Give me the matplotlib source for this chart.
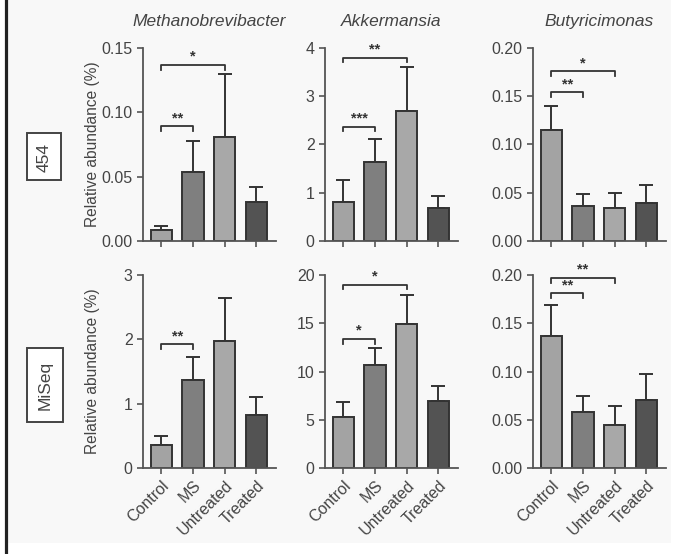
import matplotlib.pyplot as plt
import matplotlib.transforms as mtransforms
from matplotlib.lines import Line2D
from matplotlib.patches import Rectangle

plt.rcParams['font.family'] = ['Liberation Sans', 'DejaVu Sans']

groups = ['Control', 'MS', 'Untreated', 'Treated']
bar_colors = ['#a3a3a3', '#7f7f7f', '#a8a8a8', '#535353']
taxa = ['Methanobrevibacter', 'Akkermansia', 'Butyricimonas']
rows = ['454', 'MiSeq']

# mean relative abundance and upper error (SEM) per panel
methano_454 = [0.0085, 0.054, 0.081, 0.030]
methano_454_err = [0.0028, 0.024, 0.049, 0.012]
akker_454 = [0.80, 1.63, 2.69, 0.68]
akker_454_err = [0.47, 0.49, 0.92, 0.26]
butyri_454 = [0.115, 0.036, 0.034, 0.039]
butyri_454_err = [0.025, 0.013, 0.016, 0.019]

methano_miseq = [0.36, 1.37, 1.98, 0.82]
methano_miseq_err = [0.13, 0.36, 0.66, 0.29]
akker_miseq = [5.3, 10.7, 14.9, 6.9]
akker_miseq_err = [1.5, 1.7, 3.0, 1.55]
butyri_miseq = [0.137, 0.058, 0.045, 0.070]
butyri_miseq_err = [0.032, 0.017, 0.019, 0.027]

# y axis ticks per panel
ticks_methano_454 = [0, 0.05, 0.10, 0.15]
ticks_akker_454 = [0, 1, 2, 3, 4]
ticks_butyri = [0, 0.05, 0.10, 0.15, 0.20]
ticks_methano_miseq = [0, 1, 2, 3]
ticks_akker_miseq = [0, 5, 10, 15, 20]

# significance brackets: (group a, group b, level, stars)
sig_methano_454 = [(0, 1, 0.089, '**'), (0, 2, 0.137, '*')]
sig_akker_454 = [(0, 1, 2.37, '***'), (0, 2, 3.80, '**')]
sig_butyri_454 = [(0, 1, 0.154, '**'), (0, 2, 0.176, '*')]
sig_methano_miseq = [(0, 1, 1.92, '**')]
sig_akker_miseq = [(0, 1, 13.4, '*'), (0, 2, 19.0, '*')]
sig_butyri_miseq = [(0, 1, 0.181, '**'), (0, 2, 0.197, '**')]

panels = [
    [(methano_454, methano_454_err, ticks_methano_454, '{:.2f}', sig_methano_454),
     (akker_454, akker_454_err, ticks_akker_454, '{:.0f}', sig_akker_454),
     (butyri_454, butyri_454_err, ticks_butyri, '{:.2f}', sig_butyri_454)],
    [(methano_miseq, methano_miseq_err, ticks_methano_miseq, '{:.0f}', sig_methano_miseq),
     (akker_miseq, akker_miseq_err, ticks_akker_miseq, '{:.0f}', sig_akker_miseq),
     (butyri_miseq, butyri_miseq_err, ticks_butyri, '{:.2f}', sig_butyri_miseq)],
]

W, H = 680, 554
fig = plt.figure(figsize=(W / 100, H / 100), dpi=100)
fig.patch.set_facecolor('white')
fig.add_artist(Rectangle((0.012, 0.02), 0.975, 0.98, transform=fig.transFigure,
                         facecolor='#f8f8f8', edgecolor='none', zorder=-10))
fig.add_artist(Line2D([0.009, 0.009], [0.0, 1.0], transform=fig.transFigure,
                      color='#222222', lw=2.3))

ax_left = [143, 325, 533]
ax_width = 133
row_top = [48, 275]
row_height = 193
text_col = '#444444'
edge_col = '#333333'

for r in range(2):
    for c in range(3):
        vals, errs, ticks, fmt, sigs = panels[r][c]
        ax = fig.add_axes([ax_left[c] / W, 1 - (row_top[r] + row_height) / H,
                           ax_width / W, row_height / H])
        ax.set_facecolor('none')
        x = range(len(groups))
        ax.bar(x, vals, width=0.68, color=bar_colors, edgecolor=edge_col, linewidth=1.4, zorder=2)
        ax.errorbar(x, vals, yerr=[[0] * len(errs), errs], fmt='none', ecolor=edge_col,
                    elinewidth=1.4, capsize=5, capthick=1.4, zorder=1)
        ymax = ticks[-1]
        ax.set_ylim(0, ymax)
        ax.set_xlim(-0.58, 3.62)
        ax.set_yticks(ticks)
        ax.set_yticklabels([fmt.format(t) for t in ticks])
        ax.set_xticks(list(x))
        if r == 1:
            ax.set_xticklabels(groups, rotation=45, ha='right', va='top', rotation_mode='anchor')
            shift = mtransforms.ScaledTranslation(-6 / 72, -1 / 72, fig.dpi_scale_trans)
            for lab in ax.get_xticklabels():
                lab.set_transform(lab.get_transform() + shift)
        else:
            ax.set_xticklabels([])
        for s in ['top', 'right']:
            ax.spines[s].set_visible(False)
        for s in ['left', 'bottom']:
            ax.spines[s].set_color('#555555')
            ax.spines[s].set_linewidth(1.3)
        ax.tick_params(colors='#555555', labelcolor=text_col, labelsize=11.5,
                       length=4, width=1.2, direction='out')
        ax.tick_params(axis='x', labelsize=11.5, pad=3)

        for a, b, level, stars in sigs:
            dy = ymax * 0.025
            ax.plot([a, a, b, b], [level - dy, level, level, level - dy],
                    color=edge_col, lw=1.3, clip_on=False)
            ax.text((a + b) / 2, level + ymax * 0.005, stars, ha='center', va='bottom',
                    fontsize=10.5, fontweight='bold', color=edge_col)

        if r == 0:
            ax.set_title(taxa[c], fontstyle='italic', fontsize=12.5, color=text_col, pad=16)
        if c == 0:
            ax.set_ylabel('Relative abundance (%)', fontsize=11.2, color=text_col)
            ax.yaxis.set_label_coords(-0.32, 0.5)

# row labels in boxes
fig.add_artist(Rectangle((27 / W, 1 - 180 / H), 34 / W, 47 / H, transform=fig.transFigure,
                         facecolor='white', edgecolor='#444444', lw=1.4))
fig.text(44 / W, 1 - 157 / H, rows[0], rotation=90, ha='center', va='center',
         fontsize=12.5, color=text_col)
fig.add_artist(Rectangle((27 / W, 1 - 422 / H), 36 / W, 74 / H, transform=fig.transFigure,
                         facecolor='white', edgecolor='#444444', lw=1.4))
fig.text(45 / W, 1 - 385 / H, rows[1], rotation=90, ha='center', va='center',
         fontsize=12.5, color=text_col)

plt.savefig('out.png', dpi=100)
